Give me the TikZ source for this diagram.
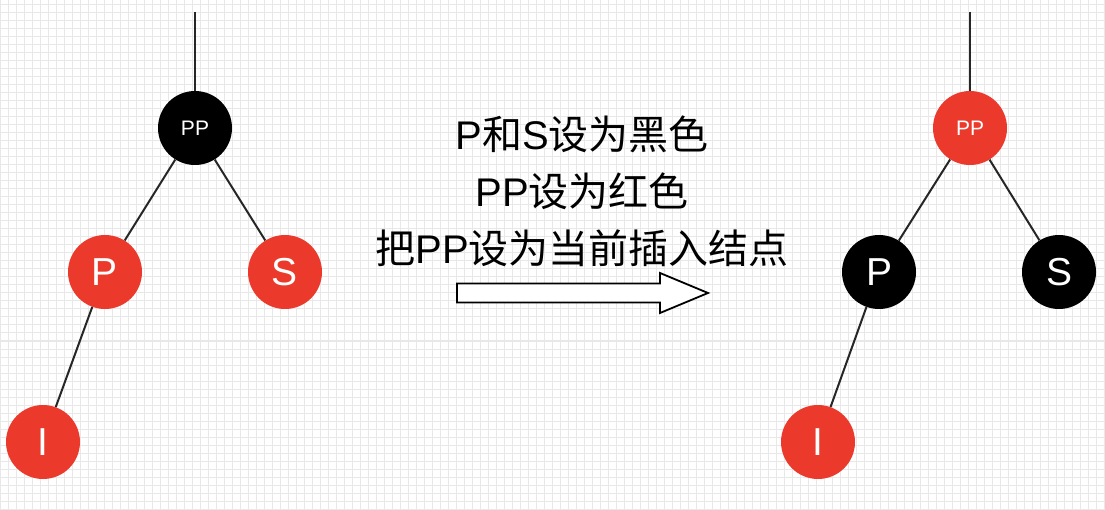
\documentclass[tikz,border=0pt]{standalone}
\usepackage{fontspec}
\setmainfont{Liberation Sans}
\newfontfamily\cjk{Noto Sans CJK SC}
\usepackage{tikz}
\definecolor{rbred}{RGB}{235,58,43}
\tikzstyle{rednode} = [circle, minimum size=74pt, inner sep=0pt, text centered, fill=rbred, text=white, font=\fontsize{39}{39}\selectfont]
\tikzstyle{blacknode} = [rednode, fill=black]
\tikzstyle{edge} = [line width=2pt, black!85]

\begin{document}
\begin{tikzpicture}[x=1pt, y=1pt]
            \useasboundingbox (0,0) rectangle (1105,509);
            \fill[white] (0,0) rectangle (1105,509);
            \draw[gray!18, line width=1pt, step=8] (0,0) grid (1105,509);

            % before
            \coordinate(top) at (195,497);
            \node(root) [blacknode, font=\fontsize{21}{21}\selectfont] at (195,381) {PP};
            \node(node1) [rednode] at (105,237) {P};
            \node(node2) [rednode] at (285,237) {S};
            \node(node3) [rednode] at (43,67) {I};

            \draw[edge] (top) -- (root);
            \draw[edge] (root) -- (node1);
            \draw[edge] (root) -- (node2);
            \draw[edge] (node1) -- (node3);

            % step text and arrow
            \node(label) [align=center, font=\fontsize{40}{57}\selectfont] at (582,318)
                {P{\cjk 和}S{\cjk 设为黑色}\\PP{\cjk 设为红色}\\{\cjk 把}PP{\cjk 设为当前插入结点}};
            \draw[line width=1.8pt, fill=white] (457,206.5) -- (660,206.5) -- (660,196) -- (708,216)
                -- (660,236) -- (660,225.5) -- (457,225.5) -- cycle;

            % after
            \coordinate(top2) at (970,497);
            \node(root2) [rednode, font=\fontsize{21}{21}\selectfont] at (970,381) {PP};
            \node(node21) [blacknode] at (879,237) {P};
            \node(node22) [blacknode] at (1059,237) {S};
            \node(node23) [rednode] at (818,67) {I};

            \draw[edge] (top2) -- (root2);
            \draw[edge] (root2) -- (node21);
            \draw[edge] (root2) -- (node22);
            \draw[edge] (node21) -- (node23);
        \end{tikzpicture}
\end{document}
